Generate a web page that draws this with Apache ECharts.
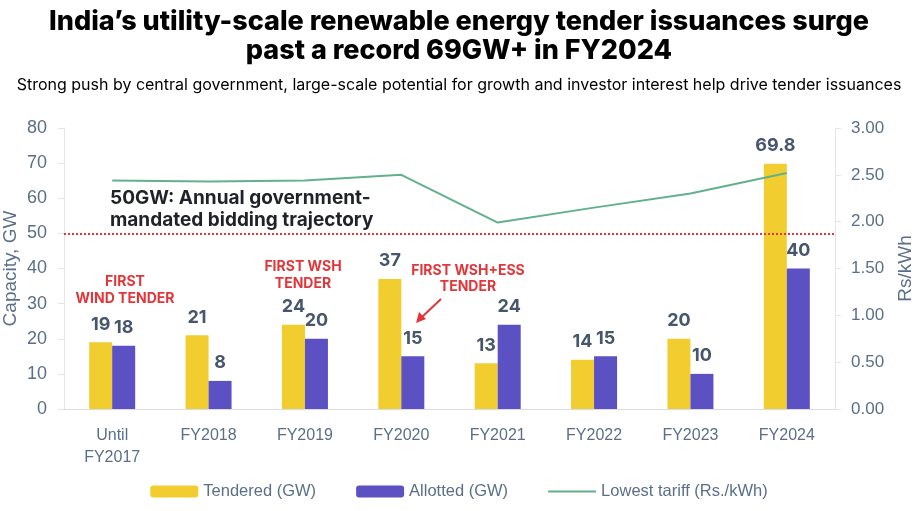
<!DOCTYPE html>
<html><head><meta charset="utf-8">
<script src="https://cdn.jsdelivr.net/npm/echarts@6/dist/echarts.min.js"></script>
<style>html,body{margin:0;padding:0;background:#fff}#c{width:918px;height:511px}</style>
</head><body><div id="c"></div>
<script>
var categories = ['Until\nFY2017','FY2018','FY2019','FY2020','FY2021','FY2022','FY2023','FY2024'];
var tendered = [19, 21, 24, 37, 13, 14, 20, 69.8];
var allotted = [18, 8, 20, 15, 24, 15, 10, 40];
var tariff = [2.44, 2.43, 2.44, 2.50, 1.99, 2.15, 2.30, 2.52];
var leftTicks = [0, 10, 20, 30, 40, 50, 60, 70, 80];
var rightTicks = [0, 0.5, 1, 1.5, 2, 2.5, 3];
var mandateLevel = 50;

var axisColor = '#5b6f88';
var labelColor = '#46566c';
var red = '#e2363a';
var chart = echarts.init(document.getElementById('c'));
chart.setOption({
  animation: false,
  title: [{
    text: 'India\u2019s utility-scale renewable energy tender issuances surge\npast a record 69GW+ in FY2024',
    left: 'center', top: 2,
    textStyle: {fontFamily: 'Inter', fontWeight: 800, fontSize: 27, lineHeight: 29, color: '#000'}
  }, {
    text: 'Strong push by central government, large-scale potential for growth and investor interest help drive tender issuances',
    left: 'center', top: 72,
    textStyle: {fontFamily: 'Inter', fontWeight: 400, fontSize: 16, color: '#000'}
  }],
  grid: {left: 64, right: 83, top: 128, bottom: 102, containLabel: false, outerBoundsMode: 'none'},
  legend: {
    bottom: 6, left: 'center', itemWidth: 48, itemHeight: 12, itemGap: 40,
    textStyle: {fontFamily: 'Liberation Sans', fontSize: 16.5, color: axisColor},
    data: [{name: 'Tendered (GW)'}, {name: 'Allotted (GW)'}, {name: 'Lowest tariff (Rs./kWh)', icon: 'path://M0,5 L48,5 L48,7 L0,7 Z'}]
  },
  xAxis: {
    type: 'category', data: categories,
    axisLine: {lineStyle: {color: '#d9dde3'}},
    axisTick: {show: false},
    axisLabel: {fontFamily: 'Liberation Sans', fontSize: 16, color: axisColor, margin: 16, lineHeight: 22}
  },
  yAxis: [{
    type: 'value', min: 0, max: 80, interval: 10,
    name: 'Capacity, GW', nameLocation: 'middle', nameGap: 44, nameMoveOverlap: false,
    nameTextStyle: {fontFamily: 'Liberation Sans', fontSize: 19, color: axisColor},
    axisLine: {show: true, lineStyle: {color: '#e3e6ea'}},
    axisTick: {show: true, length: 6, lineStyle: {color: '#e3e6ea'}},
    splitLine: {show: false},
    axisLabel: {fontFamily: 'Liberation Sans', fontSize: 18, color: axisColor, margin: 17}
  }, {
    type: 'value', min: 0, max: 3, interval: 0.5,
    name: 'Rs/kWh', nameLocation: 'middle', nameGap: 61, nameMoveOverlap: false,
    nameTextStyle: {fontFamily: 'Liberation Sans', fontSize: 19, color: axisColor},
    axisLine: {show: true, lineStyle: {color: '#e3e6ea'}},
    axisTick: {show: true, length: 6, lineStyle: {color: '#e3e6ea'}},
    splitLine: {show: false},
    axisLabel: {fontFamily: 'Liberation Sans', fontSize: 17, color: axisColor, margin: 16,
      formatter: function (v) { return v.toFixed(2); }}
  }],
  series: [{
    name: 'Tendered (GW)', type: 'bar', data: tendered, barWidth: 23, barGap: '0%',
    itemStyle: {color: '#f2cd30'},
    label: {show: true, position: 'top', distance: 9, fontFamily: 'Inter', fontWeight: 700, fontSize: 18, color: labelColor},
    markLine: {
      silent: true, symbol: 'none', label: {show: false},
      lineStyle: {color: red, type: [2, 2], width: 2},
      data: [{yAxis: mandateLevel}]
    }
  }, {
    name: 'Allotted (GW)', type: 'bar', data: allotted, barWidth: 23,
    itemStyle: {color: '#5b51c3'},
    label: {show: true, position: 'top', distance: 9, fontFamily: 'Inter', fontWeight: 700, fontSize: 18, color: labelColor}
  }, {
    name: 'Lowest tariff (Rs./kWh)', type: 'line', yAxisIndex: 1, data: tariff,
    symbol: 'none', lineStyle: {color: '#62b08e', width: 2}, itemStyle: {color: '#62b08e'}
  }],
  graphic: [
    {type: 'text', left: 110, top: 187, style: {text: '50GW: Annual government-\nmandated bidding trajectory', font: '700 19px Inter', fill: '#1f2328', lineHeight: 22}},
    {type: 'text', x: 125, y: 273, style: {text: 'FIRST\nWIND TENDER', font: '700 14px Inter', fill: red, align: 'center', lineHeight: 17}},
    {type: 'text', x: 303, y: 258, style: {text: 'FIRST WSH\nTENDER', font: '700 14px Inter', fill: red, align: 'center', lineHeight: 17}},
    {type: 'text', x: 468, y: 263, style: {text: 'FIRST WSH+ESS\nTENDER', font: '700 14px Inter', fill: red, align: 'center', lineHeight: 16}},
    {type: 'line', shape: {x1: 441, y1: 299, x2: 422, y2: 317}, style: {stroke: red, lineWidth: 2}},
    {type: 'polygon', shape: {points: [[416, 323], [419, 312], [426, 319]]}, style: {fill: red}}
  ]
});
</script></body></html>
